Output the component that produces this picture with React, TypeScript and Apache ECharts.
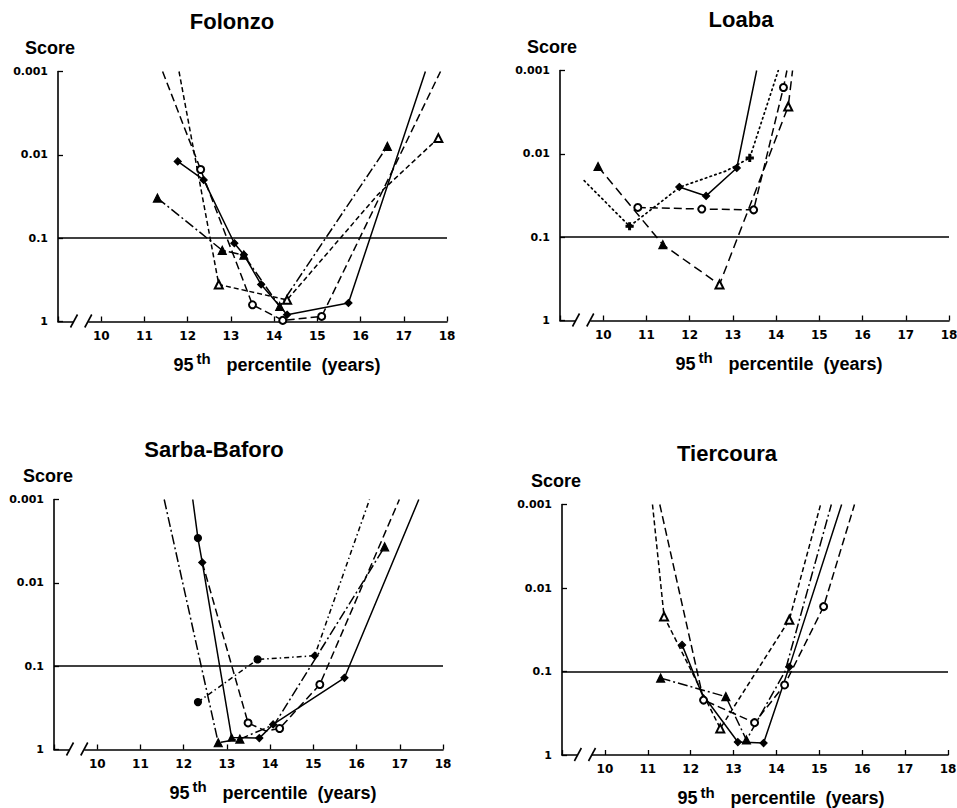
import { useEffect, useRef } from "react";
import * as echarts from "echarts";

type Pt = [number, number];

// ---------- data: [95th percentile age (years), score] ----------
// Folonzo
const folonzoDiamond: Pt[] = [[11.77, 0.012], [12.37, 0.02], [13.08, 0.115], [13.3, 0.158], [13.7, 0.36], [14.3, 0.83], [15.72, 0.6], [17.5, 0.001]];
const folonzoCircle: Pt[] = [[11.42, 0.001], [12.3, 0.015], [13.5, 0.63], [14.2, 0.97], [15.1, 0.87], [17.85, 0.001]];
const folonzoFilledTri: Pt[] = [[11.3, 0.033], [12.8, 0.14], [13.3, 0.16], [14.13, 0.66], [16.62, 0.0079]];
const folonzoOpenTri: Pt[] = [[11.8, 0.001], [12.72, 0.36], [14.3, 0.55], [16.4, 0.03], [17.8, 0.0063]];

// Loaba
const loabaDiamond: Pt[] = [[11.76, 0.025], [12.38, 0.032], [13.09, 0.0148], [13.55, 0.001]];
const loabaCircle: Pt[] = [[10.8, 0.044], [12.28, 0.046], [13.48, 0.047], [14.17, 0.0016], [14.25, 0.001]];
const loabaTriangle: Pt[] = [[9.88, 0.0142], [11.38, 0.123], [12.69, 0.37], [14.28, 0.0027], [14.38, 0.001]];
const loabaPlus: Pt[] = [[9.56, 0.021], [10.61, 0.074], [11.78, 0.025], [12.85, 0.016], [13.39, 0.0112], [14.05, 0.001]];

// Sarba-Baforo
const sarbaDiamond: Pt[] = [[12.21, 0.001], [12.33, 0.0029], [12.43, 0.0057], [13.11, 0.72], [13.75, 0.73], [14.07, 0.5], [15.72, 0.138], [17.44, 0.001]];
const sarbaCircle: Pt[] = [[12.43, 0.0057], [13.49, 0.48], [13.9, 0.6], [14.22, 0.56], [15.15, 0.166], [16.99, 0.001]];
const sarbaFilledTri: Pt[] = [[11.55, 0.001], [12.8, 0.83], [13.3, 0.75], [14.1, 0.5], [16.1, 0.0107], [16.65, 0.0037]];
const sarbaDot: Pt[] = [[12.33, 0.27], [13.71, 0.083], [15.03, 0.075], [16.3, 0.001]];

// Tiercoura
const tierDiamond: Pt[] = [[11.8, 0.048], [12.25, 0.18], [13.1, 0.7], [13.7, 0.72], [14.3, 0.088], [15.52, 0.001]];
const tierCircle: Pt[] = [[11.28, 0.001], [12.3, 0.22], [13.49, 0.41], [14.19, 0.145], [15.1, 0.0167], [15.82, 0.001]];
const tierFilledTri: Pt[] = [[11.3, 0.12], [12.82, 0.2], [13.3, 0.66], [14.2, 0.1], [15.28, 0.001]];
const tierOpenTri: Pt[] = [[11.11, 0.001], [11.38, 0.022], [12.69, 0.48], [14.3, 0.024], [15.03, 0.001]];

const X_MIN = 9;
const X_MAX = 18;
const Y_TICK_LABELS = ["0.001", "0.01", "0.1", "1"];
const THRESHOLD = 0.1;
const TITLES = ["Folonzo", "Loaba", "Sarba-Baforo", "Tiercoura"];

// ---------- styles ----------
const PLUS = "path://M3,0H5V3H8V5H5V8H3V5H0V3H3Z";
const KINDS: Record<string, { dash: any; symbol: string; size: number; width: number }> = {
  solid: { dash: "solid", symbol: "diamond", size: 7, width: 1.5 },
  dashed: { dash: [8, 4], symbol: "emptyCircle", size: 7, width: 1.5 },
  longdash: { dash: [9, 5], symbol: "emptyTriangle", size: 8, width: 1.5 },
  dashdot: { dash: [10, 3, 2, 3], symbol: "triangle", size: 8, width: 1.5 },
  shortdash: { dash: [5, 3], symbol: "emptyTriangle", size: 8, width: 1.5 },
  dotted: { dash: [1.5, 3.5], symbol: PLUS, size: 7, width: 1.7 },
  dotdash: { dash: [5, 3, 1.5, 3], symbol: "circle", size: 7, width: 1.5 },
};

type Line = { data: Pt[]; kind: string; hidden?: number[]; symbols?: Record<number, string> };
type Panel = {
  left: number; top: number; width: number; height: number;
  titleX: number; titleY: number; scoreX: number; scoreY: number;
  lines: Line[];
};

const PANELS: Panel[] = [
  {
    left: 58, top: 71.5, width: 389, height: 250, titleX: 232, titleY: 21, scoreX: 25, scoreY: 48,
    lines: [
      { data: folonzoDiamond, kind: "solid" },
      { data: folonzoCircle, kind: "dashed" },
      { data: folonzoFilledTri, kind: "dashdot" },
      { data: folonzoOpenTri, kind: "shortdash", hidden: [3] },
    ],
  },
  {
    left: 560, top: 70.5, width: 389, height: 250, titleX: 741, titleY: 19, scoreX: 527, scoreY: 47,
    lines: [
      { data: loabaDiamond, kind: "solid" },
      { data: loabaCircle, kind: "dashed" },
      { data: loabaTriangle, kind: "longdash", symbols: { 0: "triangle", 1: "triangle" } },
      { data: loabaPlus, kind: "dotted", hidden: [0, 2, 3] },
    ],
  },
  {
    left: 54, top: 499.5, width: 389, height: 250, titleX: 214, titleY: 449, scoreX: 23, scoreY: 476,
    lines: [
      { data: sarbaDiamond, kind: "solid", symbols: { 1: "circle", 3: "triangle" } },
      { data: sarbaCircle, kind: "dashed", hidden: [0, 2] },
      { data: sarbaFilledTri, kind: "dashdot", hidden: [3, 4] },
      { data: sarbaDot, kind: "dotdash", symbols: { 2: "diamond" } },
    ],
  },
  {
    left: 562, top: 504.5, width: 386, height: 250.5, titleX: 727, titleY: 453, scoreX: 531, scoreY: 481,
    lines: [
      { data: tierDiamond, kind: "solid", hidden: [1] },
      { data: tierCircle, kind: "dashed" },
      { data: tierFilledTri, kind: "dashdot", hidden: [3] },
      { data: tierOpenTri, kind: "shortdash" },
    ],
  },
];

const TICK_FONT = "DejaVu Sans";
const TEXT_FONT = "Liberation Sans";

export default function App() {
  const ref = useRef<HTMLDivElement>(null);

  useEffect(() => {
    if (!ref.current) return;
    const chart = echarts.init(ref.current, undefined, { renderer: "svg" });

    const grid = PANELS.map((p) => ({
      left: p.left, top: p.top, width: p.width, height: p.height,
      containLabel: false, outerBoundsMode: "none",
    }));

    const xAxis = PANELS.map((_, i) => ({
      gridIndex: i, type: "value", min: X_MIN, max: X_MAX, interval: 1,
      axisLine: { show: true, onZero: false, lineStyle: { color: "#000", width: 1.6 } },
      axisTick: { show: true, inside: true, length: 5, lineStyle: { color: "#000", width: 1.3 } },
      axisLabel: {
        color: "#000", fontFamily: TICK_FONT, fontWeight: "bold", fontSize: 12, margin: 8,
        formatter: (v: number) => (v === X_MIN ? "" : String(v)),
      },
      splitLine: { show: false },
    }));

    const yAxis = PANELS.map((_, i) => ({
      gridIndex: i, type: "log", logBase: 10, min: 0.001, max: 1, inverse: true,
      axisLine: { show: true, onZero: false, lineStyle: { color: "#000", width: 1.6 } },
      axisTick: { show: true, inside: true, length: 5, lineStyle: { color: "#000", width: 1.3 } },
      minorTick: { show: false },
      axisLabel: {
        color: "#000", fontFamily: TICK_FONT, fontWeight: "bold", fontSize: 11, margin: 10,
        formatter: (v: number) => Y_TICK_LABELS[Math.round(Math.log10(v)) + 3] ?? "",
      },
      splitLine: { show: false },
    }));

    const series: any[] = [];
    PANELS.forEach((p, i) => {
      p.lines.forEach((l, j) => {
        const k = KINDS[l.kind];
        const hidden = l.hidden || [];
        series.push({
          type: "line", xAxisIndex: i, yAxisIndex: i, clip: true, z: 3,
          symbol: k.symbol, symbolSize: k.size, showSymbol: true, showAllSymbol: true,
          data: l.data.map((pt, idx) => ({
            value: pt,
            symbol: pt[1] <= 0.001 || hidden.includes(idx) ? "none" : (l.symbols && l.symbols[idx]) || k.symbol,
          })),
          lineStyle: { color: "#000", width: k.width, type: k.dash, cap: l.kind === "dotted" ? "round" : "butt" },
          itemStyle: { color: "#000", borderColor: "#000", borderWidth: 1.2 },
          emphasis: { disabled: true },
          markLine: j === 0 ? {
            silent: true, symbol: ["none", "none"], label: { show: false },
            lineStyle: { color: "#000", width: 1.6, type: "solid" },
            data: [{ yAxis: THRESHOLD }],
          } : undefined,
        });
      });
    });

    chart.setOption({
      animation: false,
      backgroundColor: "#fff",
      grid, xAxis, yAxis, series,
    });

    const graphic: any[] = [];
    PANELS.forEach((p, i) => {
      // axis break on the x axis
      const a = chart.convertToPixel({ gridIndex: i } as any, [9.37, 1]) as number[];
      const b = chart.convertToPixel({ gridIndex: i } as any, [9.7, 1]) as number[];
      graphic.push({ type: "rect", z: 100, shape: { x: a[0], y: a[1] - 3, width: b[0] - a[0], height: 6 }, style: { fill: "#fff" } });
      [a, b].forEach((c) => {
        graphic.push({ type: "line", z: 101, shape: { x1: c[0] - 3.5, y1: c[1] + 6, x2: c[0] + 3.5, y2: c[1] - 7 }, style: { stroke: "#000", lineWidth: 1.6 } });
      });
      const bottom = p.top + p.height;
      graphic.push(
        { type: "text", z: 100, x: p.titleX, y: p.titleY, style: { text: TITLES[i], font: `bold 22px "${TEXT_FONT}"`, fill: "#000", textAlign: "center", textVerticalAlign: "middle" } },
        { type: "text", z: 100, x: p.scoreX, y: p.scoreY, style: { text: "Score", font: `bold 18px "${TEXT_FONT}"`, fill: "#000", textAlign: "left", textVerticalAlign: "middle" } },
        { type: "text", z: 100, x: p.left + 115.5, y: bottom + 43, style: { text: "95", font: `bold 18px "${TEXT_FONT}"`, fill: "#000", textAlign: "left", textVerticalAlign: "middle" } },
        { type: "text", z: 100, x: p.left + 138.5, y: bottom + 37, style: { text: "th", font: `bold 15px "${TEXT_FONT}"`, fill: "#000", textAlign: "left", textVerticalAlign: "middle" } },
        { type: "text", z: 100, x: p.left + 168.5, y: bottom + 43, style: { text: "percentile  (years)", font: `bold 18px "${TEXT_FONT}"`, fill: "#000", textAlign: "left", textVerticalAlign: "middle" } },
      );
    });
    chart.setOption({ graphic });

    return () => chart.dispose();
  }, []);

  return (
    <div
      ref={ref}
      style={{ position: "fixed", left: 0, top: 0, width: 957, height: 808, background: "#fff" }}
    />
  );
}
